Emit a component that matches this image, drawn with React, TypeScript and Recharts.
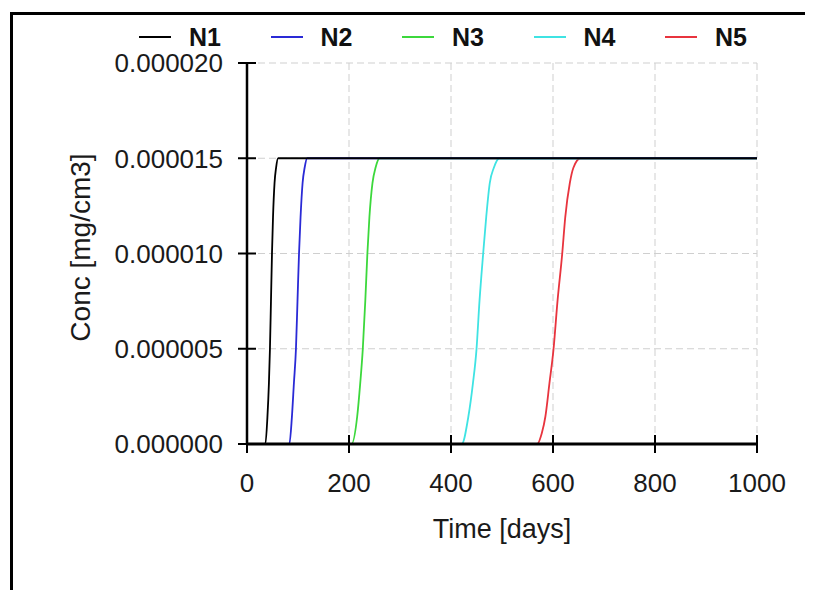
import { CartesianGrid, Label, Legend, Line, LineChart, XAxis, YAxis } from 'recharts'

// Breakthrough curves (time in days, conc in mg/cm3)
const seriesNames = ['N1', 'N2', 'N3', 'N4', 'N5']
const seriesColors = ['#000000', '#2a2ad6', '#3cd83c', '#3fe3e3', '#e8343e']

const n1Time = [0, 36, 40, 43, 45, 47, 49, 51, 54, 57, 61, 1000]
const n1Conc = [0, 0, 1.4e-6, 3.2e-6, 5.0e-6, 7.5e-6, 1.0e-5, 1.19e-5, 1.37e-5, 1.45e-5, 1.5e-5, 1.5e-5]

const n2Time = [0, 83, 88, 92, 96, 99, 102, 105, 109, 113, 118, 1000]
const n2Conc = [0, 0, 1.4e-6, 3.2e-6, 5.0e-6, 7.5e-6, 1.0e-5, 1.19e-5, 1.37e-5, 1.45e-5, 1.5e-5, 1.5e-5]

const n3Time = [0, 205, 216, 222, 227, 232, 236, 240, 246, 252, 260, 1000]
const n3Conc = [0, 0, 1.43e-6, 3.18e-6, 4.97e-6, 7.55e-6, 9.97e-6, 1.19e-5, 1.37e-5, 1.45e-5, 1.5e-5, 1.5e-5]

const n4Time = [0, 421, 434, 443, 450, 456, 463, 469, 476, 484, 495, 1000]
const n4Conc = [0, 0, 1.43e-6, 3.18e-6, 4.97e-6, 7.55e-6, 9.97e-6, 1.19e-5, 1.37e-5, 1.45e-5, 1.5e-5, 1.5e-5]

const n5Time = [0, 569, 578, 585, 593, 601, 609, 618, 624, 633, 640, 654, 1000]
const n5Conc = [0, 0, 5.6e-7, 1.43e-6, 3.18e-6, 4.97e-6, 7.55e-6, 9.97e-6, 1.19e-5, 1.37e-5, 1.45e-5, 1.5e-5, 1.5e-5]

const xTicks = [0, 200, 400, 600, 800, 1000]
const yTicks = [0, 0.000005, 0.00001, 0.000015, 0.00002]

const seriesTimes = [n1Time, n2Time, n3Time, n4Time, n5Time]
const seriesConcs = [n1Conc, n2Conc, n3Conc, n4Conc, n5Conc]

const series = seriesNames.map((name, i) => ({
  name,
  color: seriesColors[i],
  data: seriesTimes[i].map((t, j) => ({ t, c: seriesConcs[i][j] })),
}))

const FONT = '"Liberation Sans", Arial, sans-serif'
const Y_MARGIN = 24
const X_MARGIN = 39

function YTick({ x, y, payload }: any) {
  const ax = x + Y_MARGIN
  return (
    <g>
      <line x1={ax - 9} x2={ax + 9} y1={y} y2={y} stroke="#000" strokeWidth={2} />
      <text x={x} y={y} dy="0.36em" textAnchor="end" fontSize={26} fill="#1a1a1a" fontFamily={FONT}>
        {Number(payload.value).toFixed(6)}
      </text>
    </g>
  )
}

function XTick({ x, y, payload }: any) {
  const ay = y - X_MARGIN
  return (
    <g>
      <line x1={x} x2={x} y1={ay - 9} y2={ay + 9} stroke="#000" strokeWidth={2} />
      <text x={x} y={y} dy="0.36em" textAnchor="middle" fontSize={26} fill="#1a1a1a" fontFamily={FONT}>
        {payload.value}
      </text>
    </g>
  )
}

function LegendRow({ payload }: any) {
  const items = [...(payload || [])].sort((a, b) => String(a.value).localeCompare(String(b.value)))
  return (
    <div style={{ position: 'relative', height: 34 }}>
      {items.map((item: any, i: number) => (
        <div
          key={item.value}
          style={{ position: 'absolute', left: 131 + i * 131.5, top: 0, display: 'flex', alignItems: 'center', height: 34 }}
        >
          <span style={{ display: 'inline-block', width: 32, height: 2, background: item.color }} />
          <span style={{ marginLeft: 18, fontWeight: 700, fontSize: 25, lineHeight: '28px', color: '#111', fontFamily: FONT }}>
            {item.value}
          </span>
        </div>
      ))}
    </div>
  )
}

export default function App() {
  return (
    <div style={{ position: 'relative', width: 805, height: 582, overflow: 'hidden', fontFamily: FONT }}>
      <div
        style={{
          position: 'absolute',
          left: 2,
          top: 4,
          width: 1000,
          height: 1000,
          borderLeft: '3px solid #000',
          borderTop: '3px solid #000',
        }}
      />
      <div style={{ position: 'absolute', left: 0, top: 0 }}>
        <LineChart width={805} height={582} margin={{ top: 55, right: 56, bottom: 46, left: 0 }}>
          <CartesianGrid stroke="#cfcfcf" strokeDasharray="7 4" />
          <XAxis
            type="number"
            dataKey="t"
            domain={[0, 1000]}
            ticks={xTicks}
            interval={0}
            height={100}
            tickSize={0}
            tickMargin={X_MARGIN}
            tickLine={false}
            axisLine={{ stroke: '#000', strokeWidth: 3 }}
            tick={<XTick />}
            allowDataOverflow
          >
            <Label
              content={({ viewBox }: any) => (
                <text
                  x={viewBox.x + viewBox.width / 2}
                  y={viewBox.y + 84}
                  dy="0.36em"
                  textAnchor="middle"
                  fontSize={27}
                  fill="#1a1a1a"
                  fontFamily={FONT}
                >
                  Time [days]
                </text>
              )}
            />
          </XAxis>
          <YAxis
            type="number"
            domain={[0, 0.00002]}
            ticks={yTicks}
            interval={0}
            width={239}
            tickSize={0}
            tickMargin={Y_MARGIN}
            tickLine={false}
            axisLine={{ stroke: '#000', strokeWidth: 2.5 }}
            tick={<YTick />}
            allowDataOverflow
          >
            <Label
              content={({ viewBox }: any) => {
                const cx = viewBox.x + 72
                const cy = viewBox.y + viewBox.height / 2 - 6
                return (
                  <text
                    x={cx}
                    y={cy}
                    dy="0.36em"
                    textAnchor="middle"
                    fontSize={28}
                    fill="#1a1a1a"
                    fontFamily={FONT}
                    transform={`rotate(-90, ${cx}, ${cy})`}
                  >
                    Conc [mg/cm3]
                  </text>
                )
              }}
            />
          </YAxis>
          <Legend
            verticalAlign="middle"
            layout="horizontal"
            wrapperStyle={{ top: 12, left: 0, width: 805 }}
            content={<LegendRow />}
          />
          {[...series].reverse().map((s) => (
            <Line
              key={s.name}
              data={s.data}
              dataKey="c"
              name={s.name}
              type="monotone"
              stroke={s.color}
              strokeWidth={1.8}
              dot={false}
              activeDot={false}
              isAnimationActive={false}
            />
          ))}
        </LineChart>
      </div>
    </div>
  )
}
